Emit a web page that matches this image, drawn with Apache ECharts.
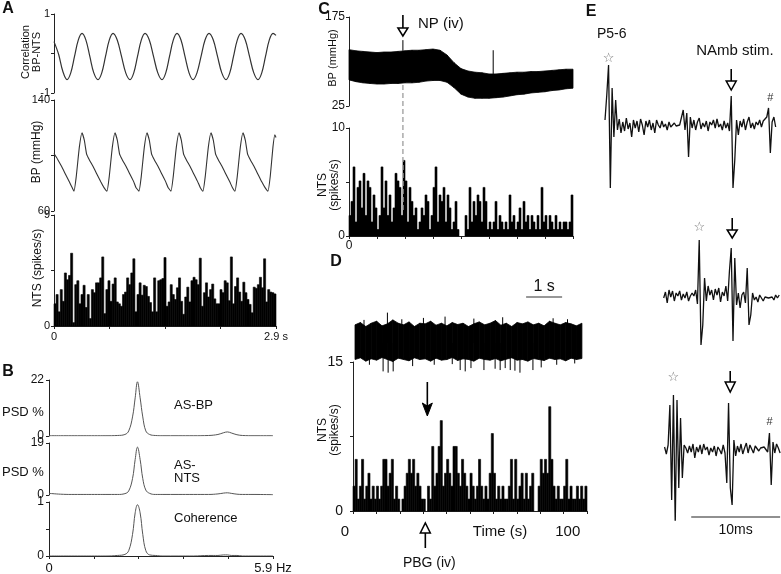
<!DOCTYPE html>
<html><head><meta charset="utf-8">
<script src="https://cdn.jsdelivr.net/npm/echarts/dist/echarts.min.js"></script>
<style>html,body{margin:0;padding:0;background:#fff}#c{width:781px;height:574px}</style>
</head><body><div id="c"></div><script>
// ---------------- DATA ----------------
// Panel A
const corrT = [0,0.06,0.115,0.170,0.219,0.268,0.317,0.366,0.417,0.468,0.520,0.575,0.624,0.673,0.722,0.771,0.826,0.882,0.937,0.993,1.042,1.091,1.140,1.189,1.245,1.300,1.356,1.411,1.460,1.509,1.558,1.607,1.659,1.711,1.764,1.816,1.868,1.921,1.973,2.025,2.081,2.136,2.192,2.247,2.296,2.345,2.394,2.443,2.499,2.554,2.610,2.665,2.714,2.763,2.812,2.861,2.9];
const corrV = [0.30,-0.02,-0.45,-0.66,-0.49,-0.075,0.34,0.51,0.34,-0.075,-0.49,-0.66,-0.49,-0.075,0.34,0.51,0.34,-0.075,-0.49,-0.66,-0.49,-0.075,0.34,0.51,0.34,-0.075,-0.49,-0.66,-0.49,-0.075,0.34,0.51,0.34,-0.075,-0.49,-0.66,-0.49,-0.075,0.34,0.51,0.34,-0.075,-0.49,-0.66,-0.49,-0.075,0.34,0.51,0.34,-0.075,-0.49,-0.66,-0.49,-0.075,0.34,0.51,0.46];
const bpT = [0,0.05,0.10,0.15,0.20,0.24,
 0.261,0.291,0.331,0.366,0.396,0.426,0.461,0.511,0.561,0.611,0.651,
 0.692,0.722,0.762,0.797,0.827,0.857,0.892,0.942,0.992,1.042,1.07,
 1.110,1.140,1.180,1.215,1.245,1.275,1.310,1.360,1.410,1.460,1.49,
 1.528,1.558,1.598,1.633,1.663,1.693,1.728,1.778,1.828,1.878,1.91,
 1.946,1.976,2.016,2.051,2.081,2.111,2.146,2.196,2.246,2.296,2.33,
 2.364,2.394,2.434,2.469,2.499,2.529,2.564,2.614,2.664,2.714,2.755,
 2.795,2.825,2.860,2.885,2.9];
const bpV = [101.4,97,92,86.5,81,76.5,
 74.3,85,106,116.4,111,101,97,92,86.5,81,77,
 74.3,85,106,116.4,111,101,97,92,86.5,81,77,
 74.3,85,106,116.4,111,101,97,92,86.5,81,77,
 74.3,85,106,116.4,111,101,97,92,86.5,81,77,
 74.3,85,106,116.4,111,101,97,92,86.5,81,77,
 74.3,85,106,116.4,111,101,97,92,86.5,81,77,
 74.3,85,106,115,113];
const ntsA = [1.8,2.55,1.15,2.95,2.0,4.3,3.75,4.1,5.9,0.27,
 3.35,3.67,1.8,2.55,3.3,1.5,2.55,0.6,2.95,2.7,
 3.5,3.5,3.9,5.6,1.0,2.95,3.67,2.0,3.4,3.9,
 1.95,1.8,1.6,2.55,2.75,3.9,3.35,4.3,5.45,1.15,
 2.55,3.5,2.5,3.3,3.2,2.4,1.9,1.15,3.9,1.15,
 3.67,3.75,3.85,5.55,1.6,1.95,3.35,2.55,2.15,3.1,
 3.9,2.0,0.95,2.35,3.15,1.95,3.67,3.95,3.75,3.35,
 5.5,1.6,2.7,3.5,2.35,2.95,3.4,2.2,1.8,1.8,
 2.95,2.7,3.67,3.5,2.05,5.6,1.8,3.2,3.9,2.75,
 2.0,3.55,2.7,2.15,1.75,1.07,3.15,3.05,3.35,3.95,
 3.1,5.45,1.95,2.95,2.75,2.7,2.6];
const ntsABin = 2.9 / 107;
// Panel B
const psdF   = [0,0.3,0.6,0.9,1.2,1.5,1.8,2.0,2.1,2.2,2.27,2.33,2.4,2.47,2.55,2.65,2.8,3.0,3.4,3.8,4.2,4.45,4.6,4.7,4.8,4.95,5.1,5.4,5.9];
const psdBP  = [0.1,0.1,0.1,0.1,0.1,0.1,0.2,0.6,2.0,7.5,15,21.3,15,7.5,2.0,0.6,0.2,0.1,0.1,0.1,0.2,0.6,1.3,1.6,1.2,0.5,0.2,0.1,0.1];
const psdNTS = [0.6,0.3,0.2,0.2,0.2,0.2,0.2,0.5,1.5,6,13,17.5,13,6,1.8,0.6,0.2,0.2,0.2,0.2,0.2,0.4,0.7,0.8,0.6,0.3,0.2,0.2,0.1];
const cohV   = [0,0,0,0,0,0,0.01,0.03,0.1,0.4,0.8,0.95,0.8,0.4,0.1,0.02,0.01,0,0,0,0.01,0.01,0.02,0.02,0.01,0.01,0,0,0];
// Panel C
const bpCT  = [0,5,10,15,20,25,30,35,40,45,50,55,60,65,70,75,80,85,90,95,100,105,110,115,120,125,130,135,140,145,150,155,160];
const bpCHi = [120,118,117,116,115,116,116,117,118,119,119,120,121,119,111,98,88,84,82,81,79,79,80,81,82,82,83,83,84,85,86,87,87];
const bpCLo = [69,66,64,63,62,62,63,63,64,64,65,67,68,68,65,56,45,40,38,38,38,39,40,42,44,45,47,48,49,51,52,54,55];
const bpCSpikes = [[38.5,118,136],[103,79,119]];
const npTime = 38.5;
const ntsC = [1.9,3.2,6.4,1.3,4.5,5.1,2.6,5.8,1.9,5.1,
 4.5,1.3,3.8,2.6,0.6,1.9,6.4,2.6,5.1,1.9,
 3.8,1.3,2.6,5.8,5.1,4.5,1.9,7.0,5.1,1.3,
 4.5,3.2,1.9,2.6,0.6,1.3,2.6,1.9,3.8,3.2,
 0.6,1.9,4.5,6.4,1.3,3.8,3.2,4.5,1.3,3.8,
 2.6,0.6,1.3,3.2,0.6,0,0,0,1.9,0.6,
 4.5,1.3,3.2,1.9,3.8,3.2,1.3,4.5,3.2,0.6,
 1.3,0.6,1.3,3.2,0.6,1.9,1.3,0.6,1.3,0.6,
 3.8,1.3,1.9,0.6,1.3,2.6,0.6,3.2,1.3,1.9,
 0.6,1.9,1.3,0.6,1.9,0.6,4.5,1.3,1.9,0.6,
 1.9,1.3,0.6,1.9,0.6,1.3,0.6,1.3,1.3,0.6,
 1.3,3.8];
const ntsCBin = 160 / 112;
// Panel D
const rawDStep = 0.15;
const rawDHi = [0.55,0.62,0.5,0.6,0.66,0.52,0.58,0.7,0.6,0.55,0.64,0.5,0.6,0.58,0.66,0.54,0.6,0.52,0.62,0.56,0.6,0.5,0.58,0.64,0.55,0.6,0.68,0.54,0.6,0.5,0.62,0.58,0.64,0.55,0.6,0.52,0.66,0.6,0.55,0.62,0.58,0.52,0.6];
const rawDLo = [-0.5,-0.45,-0.55,-0.48,-0.52,-0.44,-0.5,-0.56,-0.46,-0.5,-0.54,-0.45,-0.5,-0.48,-0.55,-0.46,-0.52,-0.5,-0.44,-0.53,-0.48,-0.5,-0.55,-0.46,-0.5,-0.52,-0.47,-0.54,-0.49,-0.45,-0.52,-0.5,-0.55,-0.47,-0.5,-0.53,-0.46,-0.5,-0.48,-0.54,-0.46,-0.5,-0.47];
const rawDSpikes = [[0.4,-0.66],[0.78,-0.86],[0.92,-0.9],[1.06,-0.86],[1.6,-0.7],[2.2,-0.66],[2.92,-0.82],[3.06,-0.86],[3.22,-0.76],[3.58,-0.82],[3.89,-0.78],[4.03,-0.82],[4.17,-0.76],[4.31,-0.82],[4.44,-0.84],[4.58,-0.9],[4.94,-0.82],[5.17,-0.74],[5.6,-0.66],[0.9,0.92],[1.9,0.76],[2.5,0.8],[4.1,0.78],[5.5,0.75],[0.25,0.7],[1.3,0.72],[3.3,0.74],[5.9,0.72],[2.7,-0.64],[6.1,-0.62]];
const ntsD = [2.5,5.2,1.2,2.5,5.2,1.2,2.5,3.8,1.2,2.5,
 1.2,2.5,1.2,2.5,5.2,5.2,2.5,3.8,5.2,1.2,
 2.5,1.2,0,1.2,2.5,3.8,5.2,3.8,5.2,2.5,
 3.8,2.5,1.2,1.2,0,2.5,1.2,6.5,2.5,3.8,
 6.5,9.1,2.5,3.8,5.2,3.8,2.5,6.5,6.5,3.8,
 2.5,5.2,3.8,2.5,1.2,3.8,2.5,1.2,2.5,5.2,
 2.5,1.2,2.5,1.2,3.8,7.8,3.8,1.2,2.5,1.2,
 2.5,1.2,1.2,2.5,5.2,1.2,5.2,1.2,2.5,3.8,
 1.2,3.8,1.2,2.5,3.8,0,0,2.5,5.2,3.8,
 5.2,3.8,10.5,5.2,2.5,1.2,2.5,1.2,1.2,2.5,
 5.2,1.2,2.5,1.2,1.2,2.5,1.2,2.5,1.2,2.5];
const ntsDBin = 1;
const pbgTime = 34;
// Panel E (ms relative to NAmb stimulus)
const eStep = 0.2;
const e1Start = -14.2, e2Start = -7.6, e3Start = -7.5;
const e1 = [0.5,3.0,6.0,-6.3,3.7,-1.2,2.5,-0.5,0.6,-0.8,
 0.3,-0.6,0.7,-0.4,0.2,-1.2,0.5,-0.3,0.4,-0.7,
 0.6,0.0,-1.0,0.4,-0.2,0.5,-0.5,0.2,-0.8,0.5,
 0.0,-0.3,0.4,-0.2,0.1,-0.5,0.3,-0.2,0.0,0.2,
 -0.1,0.1,0.0,0.2,1.5,-0.5,1.2,-3.2,0.8,-0.3,
 0.5,-0.5,0.3,0.7,-0.4,0.2,-0.2,0.4,-0.6,0.3,
 0.0,0.5,-0.3,0.6,-0.2,0.1,-0.5,0.4,-0.3,0.2,
 -0.6,2.9,-6.3,-3.5,0.5,-1.0,0.4,-0.2,0.6,-0.5,
 0.3,0.8,-0.3,0.2,-0.4,0.3,0.0,0.5,-0.2,0.4,
 0.2,0.8,1.7,-2.8,0.3,0.8,-0.2];
const e2 = [0.0,0.6,-0.5,0.8,0.1,0.7,-0.3,0.5,0.2,0.7,
 -0.2,0.4,0.0,0.6,-0.3,0.2,0.5,0.2,0.8,-0.6,
 5.8,-4.7,-2.7,2.0,-0.3,1.2,0.3,0.8,-0.2,0.9,
 0.3,1.0,-0.4,0.6,0.2,1.2,-0.3,2.7,5.0,-4.3,
 4.0,-0.7,0.5,-1.0,0.3,0.6,-0.5,3.0,-2.7,-1.7,
 0.5,-0.2,0.1,-0.4,0.3,0.2,-0.3,0.1,0.2,0.0,
 0.2,0.1,-0.2,0.3,0.0,0.3];
const e3 = [0.3,-0.4,0.5,4.5,-5.0,5.5,-7.5,5.0,-3.8,3.2,
 -2.8,0.5,0.2,-0.3,0.4,-0.2,0.6,-0.8,0.3,-0.2,
 0.5,-0.4,0.6,0.0,0.3,-0.5,0.2,-0.2,0.4,-0.6,
 0.3,0.0,-0.4,0.5,-0.3,-3.3,4.7,-3.8,-5.5,1.0,
 -0.6,0.4,-0.2,0.6,-0.4,0.2,0.7,-0.3,0.5,0.1,
 -0.3,0.4,0.3,-0.1,0.2,0.0,0.3,0.5,-0.2,1.7,
 -3.5,0.8,-0.3,0.6,0.2,-0.3];
const eStars = [[-13.8, 0],[-3.6, 1],[-6.5, 2]];
const eHashes = [[4.4, 0],[4.3, 2]];

// ---------------- HELPERS ----------------
const FONT = '"Liberation Sans", Arial, Helvetica, sans-serif';
const pairs = (xs, ys) => xs.map((x, i) => [x, ys[i]]);
const series0 = (start, step, vals) => vals.map((v, i) => [start + i * step, v]);

function hidX(gi, min, max) { return {type:'value', gridIndex:gi, min, max, show:false, splitLine:{show:false}}; }
function hidY(gi, min, max) { return {type:'value', gridIndex:gi, min, max, show:false, splitLine:{show:false}}; }
function visY(gi, min, max, interval, hide, size, margin) {
  return {type:'value', gridIndex:gi, min, max, interval,
    axisLine:{show:true, lineStyle:{color:'#222', width:1}},
    axisTick:{show:true, length:3, lineStyle:{color:'#222'}},
    axisLabel:{show:true, fontSize:size, fontFamily:FONT, color:'#111', margin:margin,
      formatter: v => hide.some(h => Math.abs(h - v) < 1e-9) ? '' : String(v)},
    splitLine:{show:false}};
}
function visX(gi, min, max, interval, fmt, size, margin) {
  return {type:'value', gridIndex:gi, min, max, interval,
    axisLine:{show:true, onZero:false, lineStyle:{color:'#222', width:1}},
    axisTick:{show:true, length:3, lineStyle:{color:'#222'}},
    axisLabel:{show:true, fontSize:size, fontFamily:FONT, color:'#111', margin:margin, formatter:fmt, showMinLabel:true, showMaxLabel:true},
    splitLine:{show:false}};
}
function histSeries(xi, vals, bw) {
  return {type:'custom', xAxisIndex:xi, yAxisIndex:xi, encode:{x:0, y:1},
    data: series0(0, bw, vals),
    renderItem: (p, api) => {
      const t = api.value(0), v = api.value(1);
      const a = api.coord([t, v]), b = api.coord([t + bw, 0]);
      return {type:'rect', shape:{x:a[0], y:a[1], width:b[0]-a[0], height:b[1]-a[1]},
        style:{fill:'#000', stroke: v > 0 ? '#000' : null, lineWidth:0.6}};
    }};
}
function bandSeries(xi, ts, lo, hi) {
  const d = [];
  for (let i = 0; i < ts.length - 1; i++) d.push([ts[i], ts[i+1], lo[i], hi[i], lo[i+1], hi[i+1]]);
  return {type:'custom', xAxisIndex:xi, yAxisIndex:xi, encode:{x:[0,1], y:[2,3,4,5]}, data:d,
    renderItem: (p, api) => {
      const A = api.coord([api.value(0), api.value(3)]), B = api.coord([api.value(1), api.value(5)]);
      const C = api.coord([api.value(1), api.value(4)]), D = api.coord([api.value(0), api.value(2)]);
      return {type:'polygon', shape:{points:[A,B,C,D]}, style:{fill:'#000', stroke:'#000', lineWidth:0.8}};
    }};
}
function spikeSeries(xi, d) {
  return {type:'custom', xAxisIndex:xi, yAxisIndex:xi, encode:{x:0, y:[1,2]}, data:d,
    renderItem: (p, api) => {
      const a = api.coord([api.value(0), api.value(1)]), b = api.coord([api.value(0), api.value(2)]);
      return {type:'line', shape:{x1:a[0], y1:a[1], x2:b[0], y2:b[1]}, style:{stroke:'#000', lineWidth:1}};
    }};
}
function lineSeries(xi, data, color, width, smooth) {
  return {type:'line', xAxisIndex:xi, yAxisIndex:xi, data, showSymbol:false, smooth:smooth||false,
    lineStyle:{color, width}, itemStyle:{color}, silent:true};
}

// ---------------- OPTION ----------------
const G = (l, t, w, h) => ({left:l, top:t, width:w, height:h, containLabel:false, outerBoundsMode:'none'});
const option = {
  animation:false, backgroundColor:'#fff',
  grid:[
    G(54,14,222,79), G(54,100,222,111), G(54,215,222,111),
    G(49,380,224,56), G(49,443,224,52), G(49,502,224,54),
    G(349,17,224,89), G(349,128,224,108),
    G(355,310,228,66), G(353,362,234,149),
    G(605,55,176,140), G(605,228,176,140), G(605,380,176,140)
  ],
  xAxis:[
    hidX(0,0,2.9), hidX(1,0,2.9),
    visX(2,0,2.9,0.725, v => v === 0 ? '0' : (Math.abs(v-2.9)<1e-6 ? '2.9 s' : ''), 11, 5),
    hidX(3,0,5.9), hidX(4,0,5.9),
    visX(5,0,5.9,1.18, v => v === 0 ? '0' : (Math.abs(v-5.9)<1e-6 ? '5.9 Hz' : ''), 13, 6),
    hidX(6,0,160),
    visX(7,0,160,20, v => v === 0 ? '0' : '', 12, 4),
    hidX(8,0,6.33),
    visX(9,0,110,11, v => '', 14, 10),
    hidX(10,-14.2,5.6), hidX(11,-14.2,5.6), hidX(12,-14.2,5.6)
  ],
  yAxis:[
    visY(0,-1,1,1,[0],11,4), visY(1,60,140,40,[100],11,4), visY(2,0,9,4.5,[4.5],11,4),
    visY(3,0,22,22,[],12,5), visY(4,0,19,19,[],12,5), visY(5,0,1,0.5,[0.5],12,5),
    visY(6,25,175,150,[],12,4), visY(7,0,10,5,[5],12,4),
    hidY(8,-1,1), visY(9,0,15,7.5,[7.5],14,10),
    hidY(10,-7,7), hidY(11,-7,7), hidY(12,-7,7)
  ],
  series:[
    lineSeries(0, pairs(corrT, corrV), '#333', 1.2, 0.35),
    lineSeries(1, pairs(bpT, bpV), '#333', 1.1, 0.15),
    histSeries(2, ntsA, ntsABin),
    lineSeries(3, pairs(psdF, psdBP), '#555', 1, 0.4),
    lineSeries(4, pairs(psdF, psdNTS), '#555', 1, 0.4),
    lineSeries(5, pairs(psdF, cohV), '#555', 1, 0.4),
    bandSeries(6, bpCT, bpCLo, bpCHi),
    spikeSeries(6, bpCSpikes),
    histSeries(7, ntsC, ntsCBin),
    bandSeries(8, rawDHi.map((v,i)=>i*rawDStep), rawDLo, rawDHi),
    spikeSeries(8, rawDSpikes.map(s => [s[0], 0, s[1]])),
    histSeries(9, ntsD, ntsDBin),
    lineSeries(10, series0(e1Start, eStep, e1), '#111', 1.3),
    lineSeries(11, series0(e2Start, eStep, e2), '#111', 1.3),
    lineSeries(12, series0(e3Start, eStep, e3), '#111', 1.3)
  ]
};
const chart = echarts.init(document.getElementById('c'), null, {renderer:'canvas'});
chart.setOption(option);

// ---------------- ANNOTATIONS ----------------
const P = (gi, pt) => chart.convertToPixel({gridIndex: gi}, pt);
function T(x, y, s, size, o) {
  o = o || {};
  const al = o.align || 'center';
  return {type:'text', x, y, rotation:o.rot || 0, z:100,
    style:{text:s, fill:o.color || '#111', font:(o.bold ? 'bold ' : '') + size + 'px ' + (o.family || FONT),
      textAlign:al, textVerticalAlign:'middle', align:al, verticalAlign:'middle'}};
}
function L(x1, y1, x2, y2, w, c, dash) {
  return {type:'line', z:90, shape:{x1,y1,x2,y2}, style:{stroke:c||'#000', lineWidth:w||1, lineDash:dash||null}};
}
function arrowDownOpen(x, y0, y1, y2, hw) {
  return [L(x, y0, x, y1, 1.6), {type:'polygon', z:91, shape:{points:[[x-hw,y1],[x+hw,y1],[x,y2]]}, style:{fill:'#fff', stroke:'#000', lineWidth:1.5}}];
}
function arrowUpOpen(x, yTip, yBase, yEnd, hw) {
  return [L(x, yBase, x, yEnd, 1.6), {type:'polygon', z:91, shape:{points:[[x-hw,yBase],[x+hw,yBase],[x,yTip]]}, style:{fill:'#fff', stroke:'#000', lineWidth:1.5}}];
}
const R = Math.PI / 2;
const g = [];
// panel letters
g.push(T(8, 9, 'A', 16, {bold:true}), T(8, 372, 'B', 16, {bold:true}), T(324, 10, 'C', 16, {bold:true}),
       T(336, 262, 'D', 16, {bold:true}), T(591, 12, 'E', 16, {bold:true}));
// panel A axis titles
g.push(T(26, 52, 'Correlation', 11, {rot:R}), T(37, 52, 'BP-NTS', 11, {rot:R}),
       T(37, 152, 'BP (mmHg)', 12, {rot:R}), T(38, 268, 'NTS (spikes/s)', 12, {rot:R}));
// panel B texts
g.push(T(2, 412, 'PSD %', 13, {align:'left'}), T(2, 472, 'PSD %', 13, {align:'left'}),
       T(174, 405, 'AS-BP', 13, {align:'left'}), T(174, 465, 'AS-', 13, {align:'left'}),
       T(174, 478, 'NTS', 13, {align:'left'}), T(174, 518, 'Coherence', 13, {align:'left'}));
// panel C
g.push(T(333, 58, 'BP (mmHg)', 11, {rot:R}), T(323, 185, 'NTS', 12, {rot:R}), T(335, 185, '(spikes/s)', 12, {rot:R}));
const xNP = P(7, [npTime, 0])[0];
g.push(L(xNP, 85, xNP, 213, 1.5, '#aaa', [5, 3]));
g.push(...arrowDownOpen(xNP, 15, 28, 36, 5));
g.push(T(xNP + 15, 24, 'NP (iv)', 15, {align:'left'}));
// panel D
g.push(T(323, 430, 'NTS', 12, {rot:R}), T(335, 430, '(spikes/s)', 12, {rot:R}));
const d0 = P(9, [0, 0]), d100 = P(9, [100, 0]);
g.push(T(d0[0] - 8, 532, '0', 15), T(d100[0] + 2, 532, '100', 15), T(500, 532, 'Time (s)', 15));
const xPBG = P(9, [pbgTime, 0])[0];
g.push(L(xPBG + 2, 382, xPBG + 2, 408, 1.6),
  {type:'polygon', z:91, shape:{points:[[xPBG-3,403],[xPBG+2,406],[xPBG+7,403],[xPBG+2,416]]}, style:{fill:'#000', stroke:'#000', lineWidth:1}});
g.push(...arrowUpOpen(xPBG, 523, 533, 548, 5));
g.push(T(xPBG + 4, 563, 'PBG (iv)', 14));
const s1a = P(8, [4.75, 0]), s1b = P(8, [5.75, 0]);
g.push(L(s1a[0], 297, s1b[0], 297, 1.2, '#333'), T((s1a[0] + s1b[0]) / 2, 287, '1 s', 16));
// panel E
g.push(T(597, 34, 'P5-6', 14, {align:'left'}), T(735, 51, 'NAmb stim.', 15));
const xStim = P(10, [0, 0])[0];
g.push(...arrowDownOpen(xStim, 69, 81, 90, 5), ...arrowDownOpen(xStim + 1, 218, 230, 238, 5), ...arrowDownOpen(xStim - 1, 371, 382, 392, 5));
const starY = [59, 228, 378];
eStars.forEach(s => { const x = P(10, [s[0], 0])[0]; g.push(T(x, starY[s[1]], '\u2606', 13, {color:'#777', family:'"DejaVu Sans", sans-serif'})); });
const hashY = [98, 0, 422];
eHashes.forEach(h => { const x = P(10, [h[0], 0])[0]; g.push(T(x, hashY[h[1]], '#', 11, {color:'#333'})); });
const sbA = P(12, [-4.5, 0]), sbB = P(12, [5.5, 0]);
g.push(L(sbA[0], 517, sbB[0], 517, 1.2, '#222'), T((sbA[0] + sbB[0]) / 2, 530, '10ms', 14));
chart.setOption({graphic: g});
</script></body></html>
